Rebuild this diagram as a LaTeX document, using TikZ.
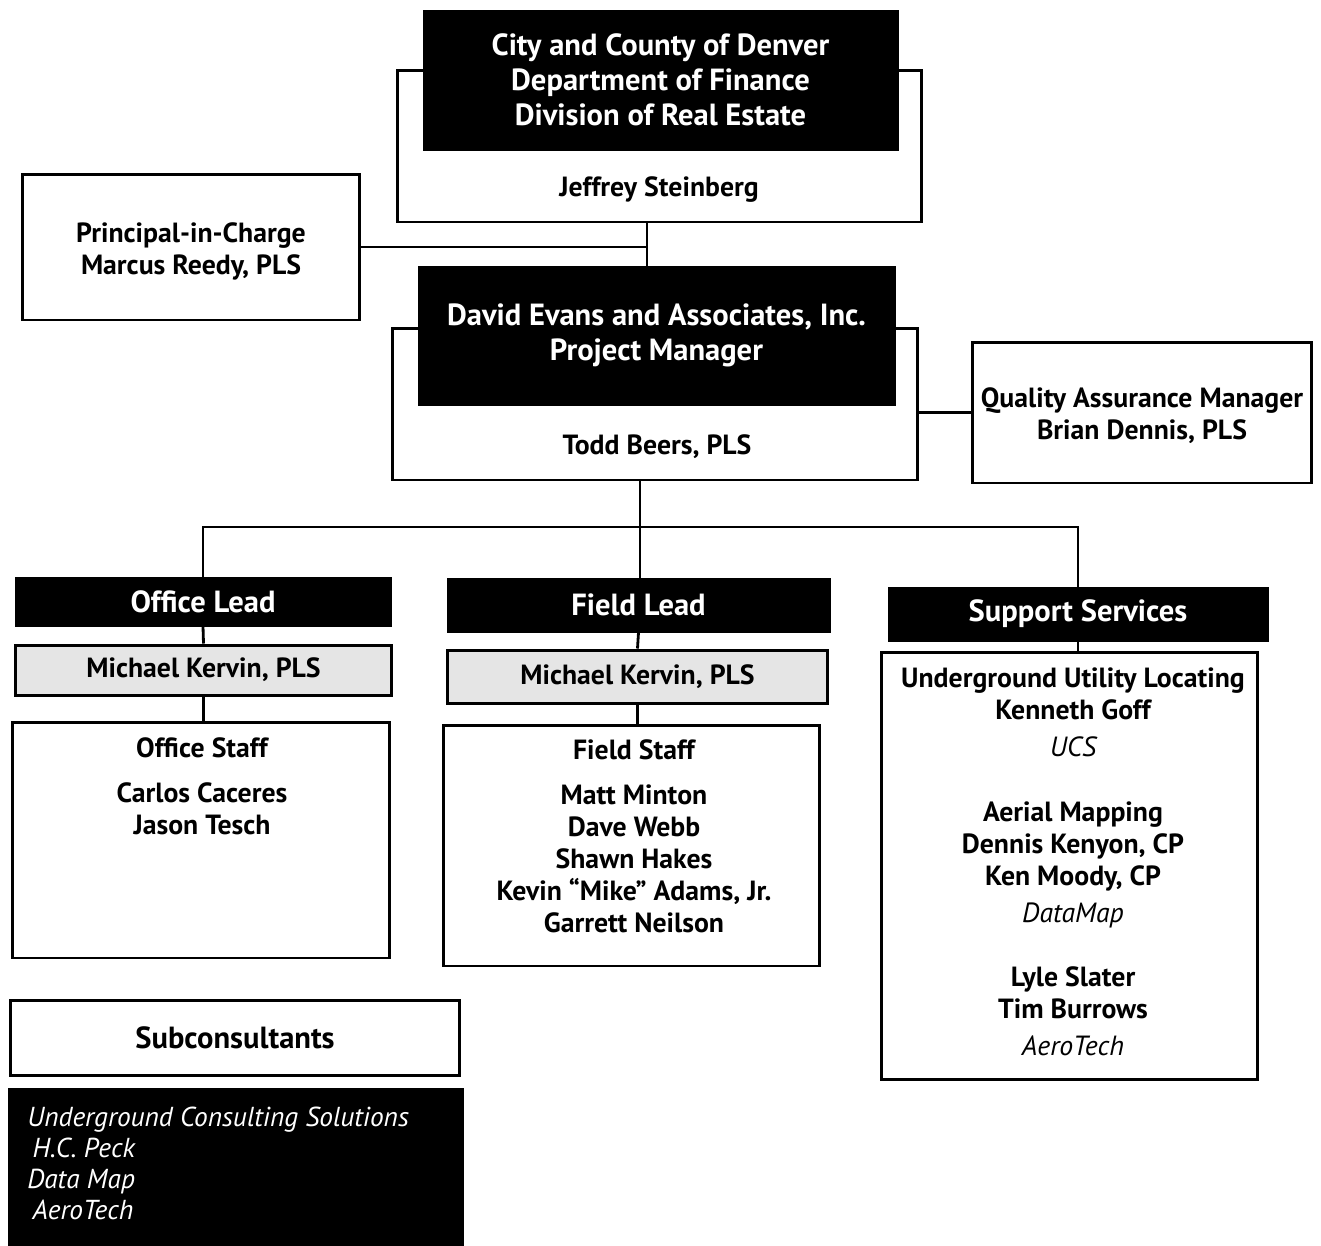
\documentclass[tikz,border=0pt]{standalone}
\usepackage{fontspec}
\setmainfont{PT Sans}
\usetikzlibrary{positioning}

\newcommand{\orghead}{\bfseries\fontsize{17.4}{19.9}\selectfont}
\newcommand{\orgbody}{\bfseries\fontsize{15.8}{18.2}\selectfont}
\newcommand{\orgital}{\mdseries\itshape\fontsize{15.6}{17.6}\selectfont}
\newcommand{\orgfirm}[1]{{\mdseries\itshape #1}}

\begin{document}
\begin{tikzpicture}[x=0.02cm, y=-0.02cm,
  blackbox/.style={draw=black, fill=black, text=white, font=\orghead, align=center, inner sep=0pt},
  framebox/.style={draw=black, line width=1.7pt, fill=white, font=\orgbody, align=center, inner sep=0pt},
  greybox/.style={framebox, fill=black!10},
  nametext/.style={font=\orgbody, align=center, inner sep=0pt},
  link/.style={line width=1.6pt}]

\useasboundingbox (0,0) rectangle (1321,1245);

% City and County (client)
\node[framebox, minimum width=10.5cm, minimum height=3.04cm] (cityframe) at (659.5,146) {};
\node[blackbox, minimum width=9.5cm, minimum height=2.8cm] (city) at (660.5,80)
  {City and County of Denver\\Department of Finance\\Division of Real Estate};
\node[nametext] (cityname) at (659,190) {Jeffrey Steinberg};

% Principal-in-Charge
\node[framebox, minimum width=6.76cm, minimum height=2.92cm] (principal) at (191,247) {};
\node[nametext] (principaltxt) at (191,251) {Principal-in-Charge\\Marcus Reedy, PLS};

% Project Manager
\node[framebox, minimum width=10.52cm, minimum height=3.04cm] (pmframe) at (655,404) {};
\node[blackbox, minimum width=9.54cm, minimum height=2.78cm] (pm) at (656.5,335.5)
  {David Evans and Associates, Inc.\\Project Manager};
\node[nametext] (pmname) at (657,447) {Todd Beers, PLS};

% Quality Assurance
\node[framebox, minimum width=6.8cm, minimum height=2.82cm] (qa) at (1142,412.5) {};
\node[nametext] (qatxt) at (1142,415.5) {Quality Assurance Manager\\Brian Dennis, PLS};

% Office
\node[blackbox, minimum width=7.52cm, minimum height=0.98cm] (officelead) at (203,601.5) {Office Lead};
\node[greybox, minimum width=7.54cm, minimum height=1.0cm] (officemk) at (203.5,670) {Michael Kervin, PLS};
\node[framebox, minimum width=7.56cm, minimum height=4.72cm] (officestaff) at (201,840) {};
\node[nametext, anchor=north] (officetxt) at (202,737)
  {Office Staff\\[7.4pt]Carlos Caceres\\Jason Tesch};

% Field
\node[blackbox, minimum width=7.66cm, minimum height=1.08cm] (fieldlead) at (638.5,605) {Field Lead};
\node[greybox, minimum width=7.62cm, minimum height=1.06cm] (fieldmk) at (637.5,676.5) {Michael Kervin, PLS};
\node[framebox, minimum width=7.54cm, minimum height=4.82cm] (fieldstaff) at (631.5,845.5) {};
\node[nametext, anchor=north] (fieldtxt) at (634,739)
  {Field Staff\\[7.4pt]Matt Minton\\Dave Webb\\Shawn Hakes\\Kevin “Mike” Adams, Jr.\\Garrett Neilson};

% Support Services
\node[blackbox, minimum width=7.6cm, minimum height=1.08cm] (support) at (1078,614) {Support Services};
\node[framebox, minimum width=7.54cm, minimum height=8.56cm] (supportbox) at (1069.5,866) {};
\node[nametext, anchor=north] (supporttxt) at (1073,667)
  {Underground Utility Locating\\Kenneth Goff\\[3pt]\orgfirm{UCS}\\[18.8pt]
   Aerial Mapping\\Dennis Kenyon, CP\\Ken Moody, CP\\[3pt]\orgfirm{DataMap}\\[18pt]
   Lyle Slater\\Tim Burrows\\[3pt]\orgfirm{AeroTech}};

% Subconsultants
\node[framebox, font=\orghead, minimum width=9cm, minimum height=1.5cm] (subcons) at (235,1037.5) {Subconsultants};
\node[blackbox, minimum width=9.1cm, minimum height=3.14cm] (subfirms) at (235.5,1166.5) {};
\node[anchor=north west, inner sep=0pt, text=white, font=\orgital, align=left] (subtxt) at (27,1107)
  {Underground Consulting Solutions\\\hspace{3pt}H.C. Peck\\Data Map\\\hspace{3pt}AeroTech};

% connectors
\coordinate (jtop) at (647,242);
\draw[link] (jtop |- cityframe.south) -- (jtop |- pm.north);
\draw[link] (principal.east) -- (principal.east -| jtop);
\draw[link] (qa.west) -- (qa.west -| pmframe.east);

\coordinate (bus) at (640,527);
\draw[link] (pmframe.south -| bus) -- (bus);
\draw[link] (officelead.north) |- (bus) -| (support.north);
\draw[link] (bus) -- (fieldlead.north -| bus);

\draw[link] (officelead.south) -- (officemk.north);
\draw[link] (officemk.south) -- (officemk.south |- officestaff.north);
\draw[link] (fieldlead.south) -- (fieldmk.north);
\draw[link] (fieldmk.south) -- (fieldmk.south |- fieldstaff.north);
\draw[link] (support.south) -- (support.south |- supportbox.north);

\end{tikzpicture}
\end{document}
